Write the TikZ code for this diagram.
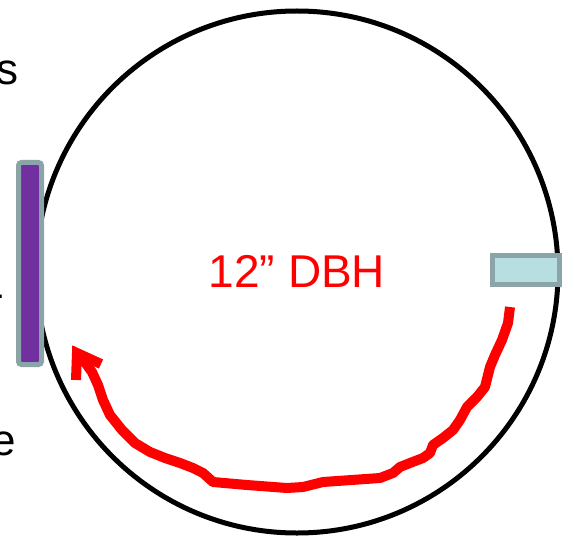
\documentclass[tikz,border=0pt]{standalone}
\usepackage{fontspec}
\setmainfont{Liberation Sans}
\begin{document}
\begin{tikzpicture}[x=1pt,y=-1pt,
  frag/.style={inner sep=0pt,outer sep=0pt,font=\fontsize{44}{50}\selectfont,text=black},
  redline/.style={draw=red,line width=10pt,line join=round,line cap=butt}]
\useasboundingbox (0,0) rectangle (575,540);
\clip (0,0) rectangle (575,540);
\fill[white] (0,0) rectangle (575,540);
% cropped text fragments at left edge
\node[frag,anchor=base east] (fs) at (18,85) {s};
\node[frag,anchor=base east] (fd) at (4,308) {-};
\node[frag,anchor=base east] (fe) at (16,455) {e};
% trunk circle
\draw[line width=5pt] (297,272) circle (261);
% purple bar
\draw[draw=black!25!cyan!20!gray, draw={rgb,255:red,138;green,164;blue,168}, fill={rgb,255:red,112;green,48;blue,160}, line width=5pt, rounded corners=3pt]
  (18.5,162.5) rectangle (41.5,364.5);
% light blue block
\draw[draw={rgb,255:red,138;green,164;blue,168}, fill={rgb,255:red,183;green,223;blue,225}, line width=5pt]
  (492.5,255.5) rectangle (559.5,284.5);
% label
\node[text=red,font=\fontsize{46}{52}\selectfont,inner sep=0pt,anchor=base] (lab) at (297,287) {12” DBH};
% red freehand arrow
\draw[redline] (510,307) -- (508,323) -- (502,340) -- (495,355) -- (490,367) -- (485,387)
  -- (477,397) -- (467,407) -- (460,420) -- (453,430) -- (443,438) -- (433,445) -- (430,453)
  -- (423,458) -- (410,463) -- (400,467) -- (393,473) -- (380,478) -- (323,482) -- (303,487)
  -- (287,488) -- (247,485) -- (213,482) -- (203,473) -- (193,468) -- (180,463) -- (165,458)
  -- (150,452) -- (135,443) -- (122,430) -- (110,415) -- (103,400) -- (98,385) -- (92,372)
  -- (82,358);
\draw[redline,line join=miter] (76,380) -- (77,353) -- (101,364);
\end{tikzpicture}
\end{document}
